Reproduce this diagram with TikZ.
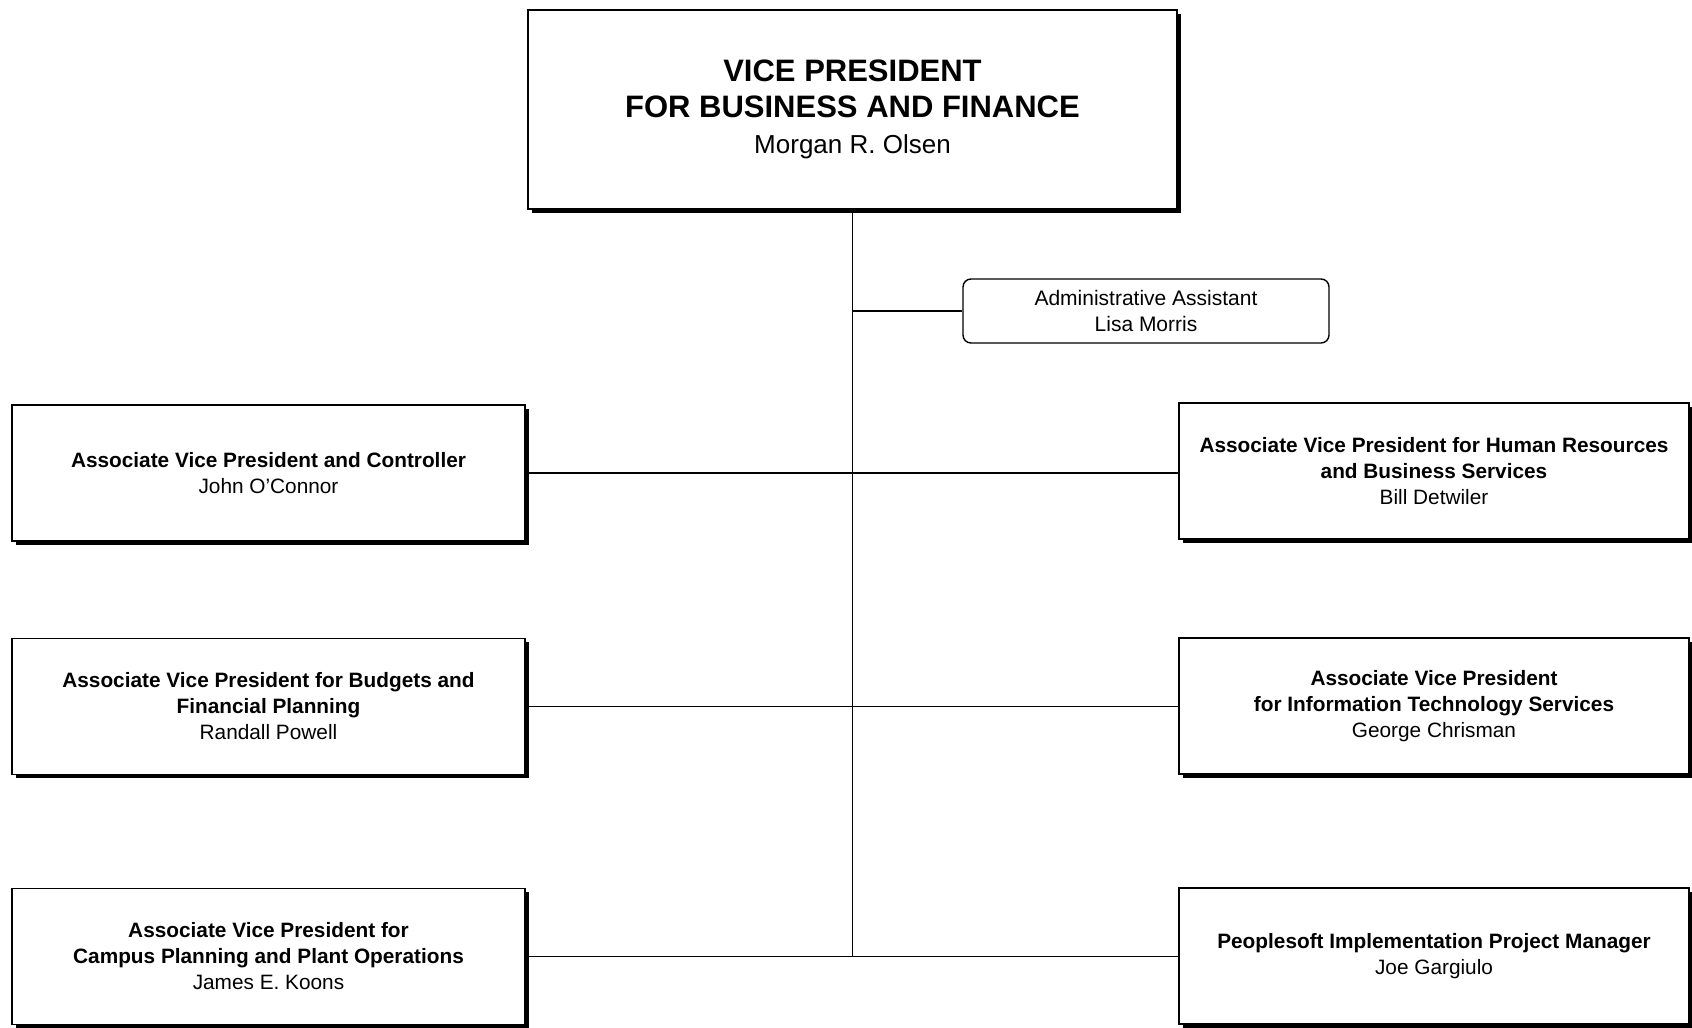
\documentclass[tikz,border=0pt]{standalone}
\usepackage{fontspec}
\setmainfont{Liberation Sans}
\usetikzlibrary{shadows}

\tikzset{
  box/.style={draw, line width=1.6pt, fill=white, align=center, inner sep=0pt,
    minimum height=136pt, font=\fontsize{20.8}{26}\selectfont,
    drop shadow={shadow xshift=3.5pt, shadow yshift=-3.5pt, fill=black, opacity=1}},
  asst/.style={draw, line width=1.4pt, rounded corners=8pt, fill=white, align=center,
    minimum width=366pt, minimum height=64pt, font=\fontsize{21}{26}\selectfont},
  link/.style={line width=1.6pt}
}

\begin{document}
\begin{tikzpicture}[x=1pt, y=-1pt]
\useasboundingbox (0,0) rectangle (1692,1028);

\node[box, minimum width=649pt, minimum height=199pt,
  font=\fontsize{31}{36}\selectfont] (vp) at (852.5,109.5)
  {\textbf{VICE PRESIDENT}\\ \textbf{FOR BUSINESS AND FINANCE}\\ {\fontsize{26}{36}\selectfont Morgan R. Olsen}};

\node[asst] (admin) at (1146,311) {Administrative Assistant\\ Lisa Morris};

\node[box, minimum width=513pt] (ctrl) at (268.5,473)
  {\textbf{Associate Vice President and Controller}\\ John O'Connor};
\node[box, minimum width=513pt] (budget) at (268.5,706.5)
  {\textbf{Associate Vice President for Budgets and}\\ \textbf{Financial Planning}\\ Randall Powell};
\node[box, minimum width=513pt] (campus) at (268.5,956.5)
  {\textbf{Associate Vice President for}\\ \textbf{Campus Planning and Plant Operations}\\ James E. Koons};

\node[box, minimum width=510pt] (hr) at (1434,471)
  {\textbf{Associate Vice President for Human Resources}\\ \textbf{and Business Services}\\ Bill Detwiler};
\node[box, minimum width=510pt] (it) at (1434,706)
  {\textbf{Associate Vice President}\\ \textbf{for Information Technology Services}\\ George Chrisman};
\node[box, minimum width=510pt] (psoft) at (1434,956)
  {\textbf{Peoplesoft Implementation Project Manager}\\ Joe Gargiulo};

\coordinate (trunkend) at (vp.south |- psoft.west);
\draw[link] (vp.south) -- (trunkend);
\draw[link] (vp.south |- admin.west) -- (admin.west);
\draw[link] (ctrl.east) -- (ctrl.east -| hr.west);
\draw[link] (budget.east) -- (budget.east -| it.west);
\draw[link] (campus.east) -- (campus.east -| psoft.west);
\end{tikzpicture}
\end{document}
